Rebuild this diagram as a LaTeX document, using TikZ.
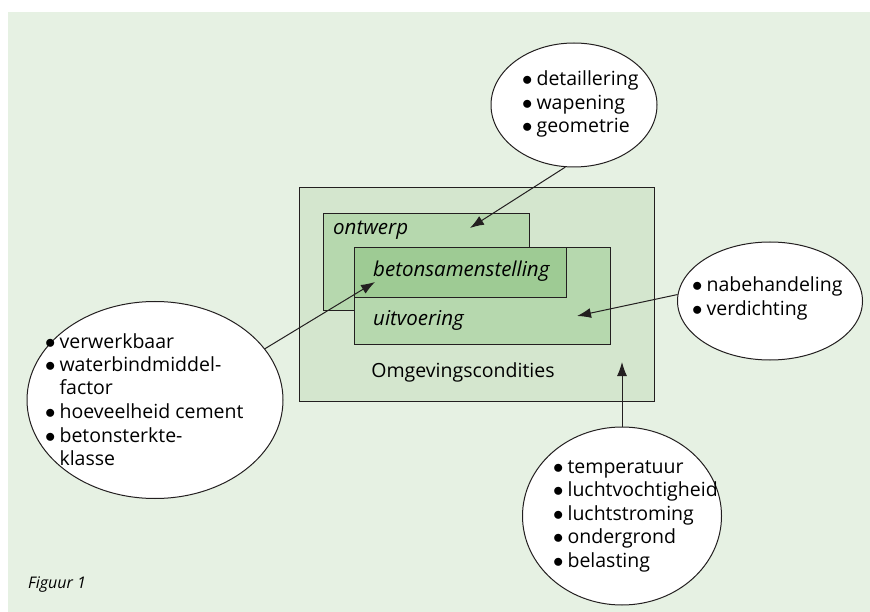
\documentclass[tikz,border=0pt]{standalone}
\usepackage{fontspec}
\setmainfont{Open Sans}
\usetikzlibrary{arrows.meta}
\usetikzlibrary{shapes.geometric}

\definecolor{achtergrond}{RGB}{230,241,227}
\definecolor{omgeving}{RGB}{212,230,206}
\definecolor{proces}{RGB}{182,216,174}
\definecolor{beton}{RGB}{158,203,148}
\definecolor{lijn}{RGB}{35,31,32}

\newcommand{\pnt}{$\bullet$}

\begin{document}
\begin{tikzpicture}[x=1pt, y=-1pt,
  bubble/.style={ellipse, draw=lijn, fill=white, line width=1pt, inner sep=0pt},
  vak/.style={rectangle, draw=lijn, line width=1pt, inner sep=0pt, anchor=north west},
  lijst/.style={anchor=base west, inner sep=0pt, font=\fontsize{19.5}{23.5}\selectfont},
  vaktekst/.style={anchor=base west, inner sep=0pt, font=\fontsize{20.5}{24}\selectfont\itshape},
  pijl/.style={-{Latex[length=14pt,width=10pt]}, draw=lijn, line width=1pt}]
\useasboundingbox (0,0) rectangle (870,612);
\fill [achtergrond] (8,12) rectangle (870,612);

% kaders
\node [vak, fill=omgeving, minimum width=355pt, minimum height=214pt] (omg) at (299,187) {};
\node [vak, fill=proces, minimum width=206pt, minimum height=97pt] (ontw) at (323,213) {};
\node [vak, fill=proces, minimum width=256pt, minimum height=97pt] (uitv) at (354,247) {};
\node [vak, fill=beton, minimum width=212pt, minimum height=50pt] (bet) at (354,247) {};

\node [vaktekst] (tOntw) at (333,235) {ontwerp};
\node [vaktekst] (tBet) at (373,277) {betonsamenstelling};
\node [vaktekst] (tUitv) at (373,326) {uitvoering};
\node [anchor=base, inner sep=0pt, font=\fontsize{19.5}{23}\selectfont] (tOmg) at (463,377) {Omgevingscondities};

% ellipsen
\node [bubble, minimum width=166pt, minimum height=124pt] (boven) at (574,105) {};
\node [bubble, minimum width=256pt, minimum height=197pt] (links) at (155,400) {};
\node [bubble, minimum width=185pt, minimum height=118pt] (rechts) at (770,301) {};
\node [bubble, minimum width=199pt, minimum height=178pt] (onder) at (622,516) {};

\node [lijst] (lBoven) at (522,86) {\begin{tabular}[t]{@{}l@{\hspace{4pt}}l@{}}
  \pnt & detaillering\\ \pnt & wapening\\ \pnt & geometrie\end{tabular}};
\node [lijst] (lLinks) at (45,348) {\begin{tabular}[t]{@{}l@{\hspace{4pt}}l@{}}
  \pnt & verwerkbaar\\ \pnt & waterbindmiddel-\\ & factor\\
  \pnt & hoeveelheid cement\\ \pnt & betonsterkte-\\ & klasse\end{tabular}};
\node [lijst] (lRechts) at (692,292) {\begin{tabular}[t]{@{}l@{\hspace{4pt}}l@{}}
  \pnt & nabehandeling\\ \pnt & verdichting\end{tabular}};
\node [lijst] (lOnder) at (553,473) {\begin{tabular}[t]{@{}l@{\hspace{4pt}}l@{}}
  \pnt & temperatuur\\ \pnt & luchtvochtigheid\\ \pnt & luchtstroming\\
  \pnt & ondergrond\\ \pnt & belasting\end{tabular}};

% pijlen
\coordinate (pOntw) at (470,228);
\coordinate (pBet) at (375,282);
\coordinate (pUitv) at (577,316);
\coordinate (pOmg) at (622,362);
\draw [pijl] (boven.262) -- (pOntw);
\draw [pijl] (links.25) -- (pBet);
\draw [pijl] (rechts.176) -- (pUitv);
\draw [pijl] (onder.north) -- (pOmg);

\node [anchor=base west, inner sep=0pt, font=\fontsize{16}{18}\selectfont\itshape] (fig) at (28,588) {Figuur 1};
\end{tikzpicture}
\end{document}
